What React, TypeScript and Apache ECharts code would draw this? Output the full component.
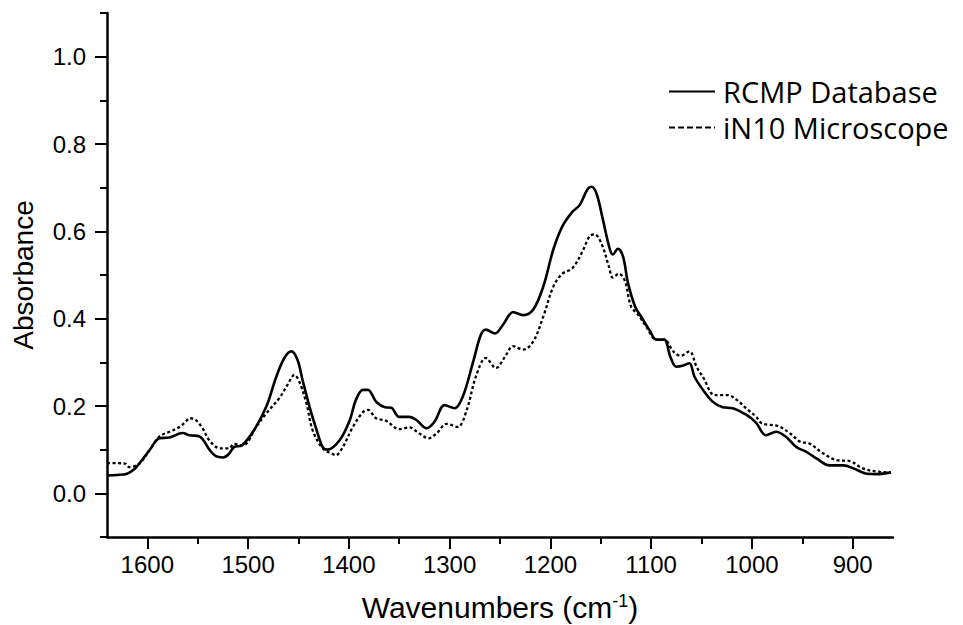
import React, { useEffect, useRef } from "react";
import * as echarts from "echarts";

const rcmpWn = [
  1640, 1630, 1620, 1613, 1608, 1598, 1588, 1578, 1565, 1558, 1548, 1538, 1532, 1525, 1519, 1514, 1506, 1494,
  1482, 1472, 1464, 1457, 1451, 1446, 1439, 1432, 1426, 1421, 1409, 1399, 1393, 1386, 1381, 1373, 1364, 1358,
  1350, 1340, 1333, 1323, 1315, 1305, 1295, 1287, 1277, 1269, 1264, 1255, 1247, 1237, 1227, 1217, 1207, 1197,
  1188, 1178, 1171, 1163, 1159, 1154, 1148, 1141, 1138, 1133, 1128, 1123, 1116, 1110, 1101, 1095, 1087, 1081,
  1075, 1069, 1062, 1057, 1048, 1039, 1029, 1019, 1005, 996, 986, 976, 966, 956, 946, 936, 923, 909, 899, 886,
  876, 862,
];
const rcmpAbs = [
  0.041, 0.042, 0.045, 0.055, 0.068, 0.098, 0.126, 0.128, 0.138, 0.133, 0.13, 0.099, 0.085, 0.082, 0.09, 0.106,
  0.11, 0.145, 0.198, 0.267, 0.31, 0.325, 0.306, 0.26, 0.198, 0.145, 0.106, 0.1, 0.122, 0.168, 0.214, 0.237,
  0.237, 0.21, 0.197, 0.196, 0.175, 0.175, 0.168, 0.149, 0.164, 0.202, 0.195, 0.221, 0.298, 0.363, 0.375, 0.366,
  0.386, 0.415, 0.408, 0.421, 0.474, 0.559, 0.612, 0.645, 0.66, 0.697, 0.702, 0.685, 0.628, 0.559, 0.547, 0.56,
  0.543, 0.482, 0.428, 0.405, 0.371, 0.352, 0.352, 0.313, 0.29, 0.292, 0.298, 0.267, 0.235, 0.21, 0.197, 0.195,
  0.179, 0.162, 0.133, 0.141, 0.129, 0.106, 0.095, 0.08, 0.064, 0.064, 0.057, 0.045, 0.044, 0.048,
];

const in10Wn = [
  1640, 1630, 1622, 1618, 1608, 1598, 1588, 1578, 1568, 1562, 1558, 1552, 1545, 1538, 1528, 1519, 1514, 1505,
  1492, 1482, 1469, 1461, 1454, 1449, 1442, 1436, 1426, 1416, 1413, 1406, 1396, 1386, 1381, 1373, 1363, 1350,
  1340, 1330, 1321, 1313, 1303, 1292, 1283, 1274, 1264, 1254, 1245, 1237, 1227, 1217, 1207, 1197, 1188, 1178,
  1168, 1161, 1156, 1149, 1142, 1138, 1132, 1126, 1120, 1113, 1105, 1095, 1087, 1078, 1071, 1062, 1055, 1048,
  1037, 1024, 1015, 1005, 996, 990, 974, 962, 952, 943, 929, 916, 903, 890, 873, 862,
];
const in10Abs = [
  0.069, 0.069, 0.068, 0.06, 0.068, 0.098, 0.13, 0.141, 0.152, 0.164, 0.172, 0.168, 0.148, 0.12, 0.103, 0.103,
  0.113, 0.11, 0.152, 0.183, 0.218, 0.248, 0.271, 0.255, 0.205, 0.145, 0.103, 0.09, 0.087, 0.106, 0.152, 0.186,
  0.191, 0.172, 0.166, 0.147, 0.151, 0.137, 0.126, 0.137, 0.159, 0.152, 0.191, 0.267, 0.31, 0.287, 0.313, 0.337,
  0.329, 0.348, 0.405, 0.474, 0.503, 0.516, 0.555, 0.589, 0.593, 0.57, 0.52, 0.494, 0.503, 0.486, 0.428, 0.409,
  0.382, 0.352, 0.352, 0.325, 0.315, 0.325, 0.29, 0.264, 0.225, 0.225, 0.214, 0.193, 0.176, 0.16, 0.154, 0.137,
  0.118, 0.114, 0.091, 0.076, 0.074, 0.057, 0.049, 0.048,
];

const xMajorTicks = [900, 1000, 1100, 1200, 1300, 1400, 1500, 1600];
const xMinorTicks = [950, 1050, 1150, 1250, 1350, 1450, 1550];
const yMajorTicks = [0, 0.2, 0.4, 0.6, 0.8, 1.0];
const yMinorTicks = [-0.1, 0.1, 0.3, 0.5, 0.7, 0.9, 1.1];

const seriesNames = ["RCMP Database", "iN10 Microscope"];

export default function App() {
  const ref = useRef<HTMLDivElement>(null);
  useEffect(() => {
    document.body.style.margin = "0";
    if (!ref.current) return;
    const chart = echarts.init(ref.current, null, { renderer: "svg" });
    const axisFont = "Arial";
    const black = "#000";
    chart.setOption({
      animation: false,
      backgroundColor: "#fff",
      grid: { left: 107, right: 70, top: 13, bottom: 88, containLabel: false, outerBoundsMode: "none" },
      legend: {
        orient: "vertical",
        left: 663,
        top: 72,
        itemWidth: 46,
        itemHeight: 14,
        itemGap: 7,
        itemStyle: { opacity: 0 },
        textStyle: { fontFamily: "Open Sans", fontSize: 29, color: black, padding: [0, 0, 0, 3] },
        data: [
          { name: seriesNames[0] },
          { name: seriesNames[1], lineStyle: { type: [6, 3] } },
        ],
      },
      xAxis: [
        {
          type: "value",
          min: 860,
          max: 1640,
          inverse: true,
          position: "bottom",
          axisLine: { show: true, onZero: false, lineStyle: { color: black, width: 2.5 } },
          axisTick: { show: true, length: 12, customValues: xMajorTicks, lineStyle: { color: black, width: 2 } },
          axisLabel: {
            customValues: xMajorTicks,
            color: black,
            fontSize: 24,
            fontFamily: axisFont,
            margin: 15,
            formatter: (v: number) => String(v),
          },
          splitLine: { show: false },
          name: "Wavenumbers (cm{sup|-1})",
          nameLocation: "middle",
          nameGap: 55,
          nameTextStyle: {
            fontFamily: axisFont,
            fontSize: 30,
            color: black,
            rich: { sup: { fontFamily: axisFont, fontSize: 18, color: black, verticalAlign: "top" } },
          },
        },
        {
          type: "value",
          min: 860,
          max: 1640,
          inverse: true,
          position: "bottom",
          axisLine: { show: false, onZero: false },
          axisTick: { show: true, length: 7, customValues: xMinorTicks, lineStyle: { color: black, width: 2 } },
          axisLabel: { show: false },
          splitLine: { show: false },
        },
      ],
      yAxis: [
        {
          type: "value",
          min: -0.1,
          max: 1.1,
          position: "left",
          axisLine: { show: true, onZero: false, lineStyle: { color: black, width: 2.5 } },
          axisTick: { show: true, length: 12, customValues: yMajorTicks, lineStyle: { color: black, width: 2 } },
          axisLabel: {
            customValues: yMajorTicks,
            color: black,
            fontSize: 24,
            fontFamily: axisFont,
            margin: 21,
            formatter: (v: number) => v.toFixed(1),
          },
          splitLine: { show: false },
          name: "Absorbance",
          nameLocation: "middle",
          nameGap: 70,
          nameTextStyle: { fontFamily: axisFont, fontSize: 28, color: black },
        },
        {
          type: "value",
          min: -0.1,
          max: 1.1,
          position: "left",
          axisLine: { show: false, onZero: false },
          axisTick: { show: true, length: 7, customValues: yMinorTicks, lineStyle: { color: black, width: 2 } },
          axisLabel: { show: false },
          splitLine: { show: false },
        },
      ],
      series: [
        {
          name: seriesNames[0],
          type: "line",
          xAxisIndex: 0,
          yAxisIndex: 0,
          showSymbol: false,
          symbol: "none",
          smooth: 0.35,
          lineStyle: { color: black, width: 2.6, type: "solid" },
          itemStyle: { color: black },
          data: rcmpWn.map((w, i) => [w, rcmpAbs[i]]),
        },
        {
          name: seriesNames[1],
          type: "line",
          xAxisIndex: 0,
          yAxisIndex: 0,
          showSymbol: false,
          symbol: "none",
          smooth: 0.35,
          lineStyle: { color: black, width: 2.3, type: [3, 2.5] },
          itemStyle: { color: black },
          data: in10Wn.map((w, i) => [w, in10Abs[i]]),
        },
      ],
    });
    return () => chart.dispose();
  }, []);
  return <div ref={ref} style={{ width: 963, height: 625 }} />;
}
